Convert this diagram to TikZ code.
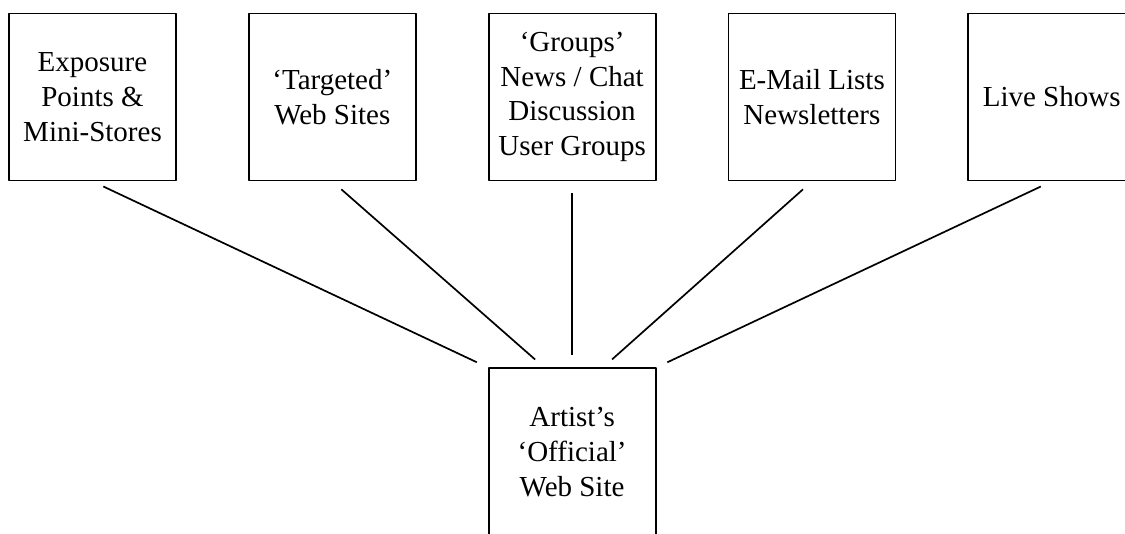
\documentclass[tikz,border=0pt]{standalone}
\usepackage{fontspec}
\setmainfont{Liberation Serif}
\usetikzlibrary{positioning}
\begin{document}
\begin{tikzpicture}[x=1pt, y=1pt, line join=round,
		font=\fontsize{29}{34.8}\selectfont,
		outlet/.style={draw, line width=1.8pt, minimum width=167pt, minimum height=167pt, inner sep=2pt, align=center},
		link/.style={line width=1.7pt, shorten <=12pt, shorten >=12pt},
		node distance=71pt]
		\useasboundingbox (0,0) rectangle (1125,-534);
		% the five outlets across the top
		\node[outlet] (expo) at (92.5,-97) {Exposure\\Points \&\\Mini-Stores};
		\node[outlet, right=of expo] (target) {`Targeted'\\Web Sites};
		\node[outlet, right=of target] (groups) {`Groups'\\News / Chat\\Discussion\\User Groups};
		\node[outlet, right=of groups] (mail) {E-Mail Lists\\Newsletters};
		\node[outlet, right=of mail] (live) {Live Shows};
		% the artist's site below
		\node[outlet, below=186pt of groups] (site) {Artist's\\`Official'\\Web Site};
		\coordinate (inl) at ([xshift=-28pt]site.north);
		\coordinate (inr) at ([xshift=31pt]site.north);
		\foreach \from/\to in {expo/site.north west, target/inl, groups/site.north, mail/inr, live/site.north east}
			\draw[link] (\from.south)--(\to);
	\end{tikzpicture}
\end{document}
